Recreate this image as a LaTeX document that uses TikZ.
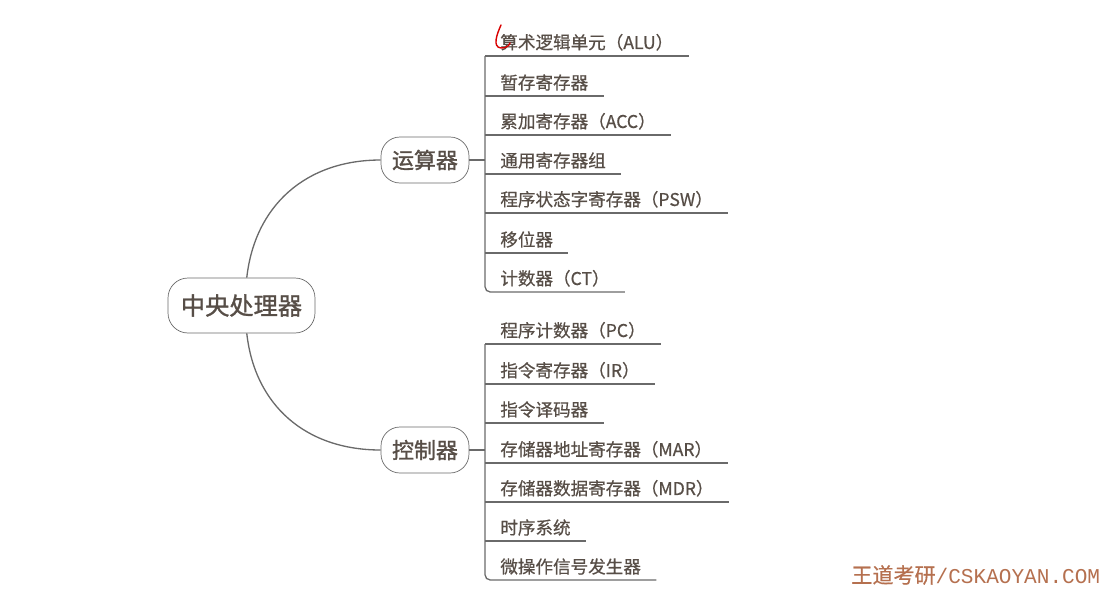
\documentclass[tikz,border=0pt]{standalone}
\usepackage{fontspec}
\setmainfont{Noto Sans CJK SC}[FakeBold=0.6]
\newfontfamily\boxfont{Noto Sans CJK SC}[FakeBold=1.3]
\newfontfamily\wmmono{Liberation Mono}
\definecolor{inkgrey}{HTML}{574E47}
\definecolor{linegrey}{HTML}{6A6A6A}
\definecolor{wmred}{HTML}{B5704F}
\usepackage{tikz}
\usetikzlibrary{calc}

\begin{document}
\begin{tikzpicture}[
  x=0.02cm, y=-0.02cm,
  rootbox/.style={draw=linegrey, fill=white, rounded corners=0.4cm,
                  minimum width=2.94cm, minimum height=1.1cm, inner sep=0pt,
                  text=inkgrey, font=\fontsize{13.8}{16}\selectfont\boxfont},
  subbox/.style={draw=linegrey, fill=white, rounded corners=0.38cm,
                 minimum width=1.76cm, minimum height=0.92cm, inner sep=0pt,
                 text=inkgrey, font=\fontsize{12.5}{15}\selectfont\boxfont},
  leaf/.style={anchor=south west, inner xsep=0.3cm, inner ysep=0.1cm,
               text=inkgrey, font=\fontsize{10}{12}\selectfont},
  branch/.style={draw=linegrey, line width=0.75pt},
]
\useasboundingbox (0,0) rectangle (1103,593);

% centre and the two parts
\node[rootbox] (cpu) at (241.5,305.5) {中央处理器};
\node[subbox] (alu-p) at (425,160) {运算器};
\node[subbox] (cu-p) at (425,450) {控制器};

\draw[branch] ([xshift=3pt]cpu.north) .. controls +(8,-72) and +(-75,0) .. (alu-p.west);
\draw[branch] ([xshift=3pt]cpu.south) .. controls +(8,72) and +(-75,0) .. (cu-p.west);

% leaves of the ALU part
\node[leaf] (l1) at (485,56) {算术逻辑单元（ALU）};
\node[leaf] (l2) at (485,96) {暂存寄存器};
\node[leaf] (l3) at (485,135) {累加寄存器（ACC）};
\node[leaf] (l4) at (485,174) {通用寄存器组};
\node[leaf] (l5) at (485,213) {程序状态字寄存器（PSW）};
\node[leaf] (l6) at (485,253) {移位器};
\node[leaf] (l7) at (485,292) {计数器（CT）};

% leaves of the control part
\node[leaf] (c1) at (485,344) {程序计数器（PC）};
\node[leaf] (c2) at (485,384) {指令寄存器（IR）};
\node[leaf] (c3) at (485,423) {指令译码器};
\node[leaf] (c4) at (485,463) {存储器地址寄存器（MAR）};
\node[leaf] (c5) at (485,502) {存储器数据寄存器（MDR）};
\node[leaf] (c6) at (485,541) {时序系统};
\node[leaf] (c7) at (485,580) {微操作信号发生器};

% brackets and underlines
\draw[branch] (alu-p.east) -- (alu-p.east -| l1.south west);
\draw[branch, rounded corners=3pt] (l1.south west) -- (l7.south west) -- (l7.south east);
\draw[branch] (l1.south west) -- (l1.south east);
\draw[branch] (l2.south west) -- (l2.south east);
\draw[branch] (l3.south west) -- (l3.south east);
\draw[branch] (l4.south west) -- (l4.south east);
\draw[branch] (l5.south west) -- (l5.south east);
\draw[branch] (l6.south west) -- (l6.south east);

\draw[branch] (cu-p.east) -- (cu-p.east -| c1.south west);
\draw[branch, rounded corners=3pt] (c1.south west) -- (c7.south west) -- (c7.south east);
\draw[branch] (c1.south west) -- (c1.south east);
\draw[branch] (c2.south west) -- (c2.south east);
\draw[branch] (c3.south west) -- (c3.south east);
\draw[branch] (c4.south west) -- (c4.south east);
\draw[branch] (c5.south west) -- (c5.south east);
\draw[branch] (c6.south west) -- (c6.south east);

% pen mark
\draw[red!85!black, line width=0.8pt, line cap=round]
  (501,25) .. controls (497,34) and (492,47) .. (501,48)
  .. controls (506,48) and (509,46) .. (510,43);

% watermark
\node[anchor=west, inner sep=0pt, text=wmred, font=\fontsize{12}{14}\selectfont]
  (mark) at (851,575) {王道考研{\wmmono /CSKAOYAN.COM}};
\end{tikzpicture}
\end{document}
